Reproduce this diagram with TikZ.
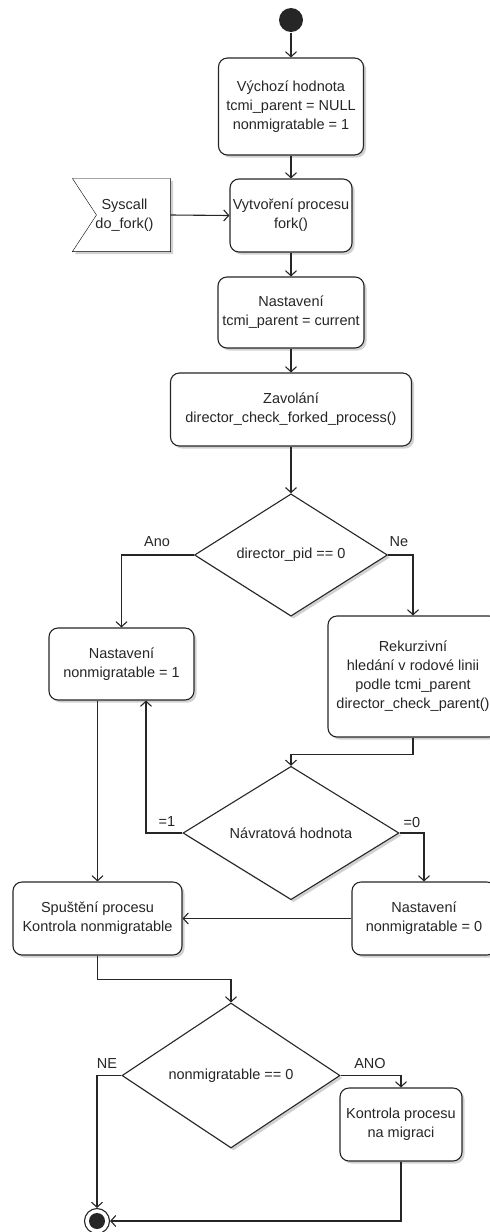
\documentclass[tikz,border=0pt]{standalone}
\usepackage{fontspec}
\setmainfont{Liberation Sans}
\usetikzlibrary{arrows.meta,shapes.geometric,shadows,backgrounds}

\begin{document}
\begin{tikzpicture}[x=1pt,y=-1pt,
  font=\fontsize{14.5}{19}\selectfont,
  color=black!85,
  line width=1.1pt,
  shade/.style={drop shadow={shadow xshift=2.5pt,shadow yshift=-2.5pt,fill=black,opacity=0.18}},
  act/.style={draw,fill=white,rounded corners=9pt,align=center,inner sep=1pt,shade},
  dec/.style={draw,fill=white,diamond,inner sep=0pt,shade},
  flow/.style={-{Straight Barb[length=5pt,width=11pt]}},
  lbl/.style={inner sep=0pt}]

\useasboundingbox (0,0) rectangle (490,1232);

% start / end markers
\node[circle,fill,inner sep=0pt,minimum size=24pt] (start) at (291,20) {};
\node[circle,draw,fill=white,inner sep=0pt,minimum size=25pt] (end) at (97,1221) {};
\fill (end.center) circle (8);

% activities
\node[act,minimum width=145pt,minimum height=97pt] (b1) at (291,106.5)
  {Výchozí hodnota\\tcmi\_parent = NULL\\nonmigratable = 1};
\node[act,minimum width=122pt,minimum height=73pt] (b2) at (291,215.5)
  {Vytvoření procesu\\fork()};
\node[minimum width=97pt,minimum height=72pt,inner sep=0pt,align=center] (sys) at (121.5,215)
  {\hspace*{6pt}Syscall\\\hspace*{6pt}do\_fork()};
\begin{scope}[on background layer]
  \draw[fill=white,shade] (sys.north west) -- (sys.north east) -- (sys.south east)
    -- (sys.south west) -- ([xshift=24pt]sys.west) -- cycle;
\end{scope}
\node[act,minimum width=146pt,minimum height=71pt] (b3) at (291,312.5)
  {Nastavení\\tcmi\_parent = current};
\node[act,minimum width=241pt,minimum height=73pt] (b4) at (291,409.5)
  {Zavolání\\director\_check\_forked\_process()};

\node[dec,minimum width=193pt,minimum height=120pt] (d1) at (291,555) {director\_pid == 0};

\node[act,minimum width=145pt,minimum height=72pt] (b5) at (121.5,664)
  {Nastavení\\nonmigratable = 1};
\node[act,minimum width=170pt,minimum height=121pt] (b6) at (413,676.5)
  {Rekurzivní\\hledání v rodové linii\\podle tcmi\_parent\\director\_check\_parent()};

\node[dec,minimum width=216pt,minimum height=120pt] (d2) at (291,833) {Návratová hodnota};

\node[act,minimum width=169pt,minimum height=73pt] (b8) at (97.5,918.5)
  {Spuštění procesu\\Kontrola nonmigratable};
\node[act,minimum width=144pt,minimum height=73pt] (b7) at (424,918.5)
  {Nastavení\\nonmigratable = 0};

\node[dec,minimum width=218pt,minimum height=145pt] (d3) at (231,1075.5) {nonmigratable == 0};
\node[act,minimum width=122pt,minimum height=73pt] (b9) at (401,1124.5)
  {Kontrola procesu\\na migraci};

% branch labels
\node[lbl] (lano) at (157,542) {Ano};
\node[lbl] (lne) at (399,542) {Ne};
\node[lbl] (ljedna) at (167,822) {=1};
\node[lbl] (lnula) at (412,822) {=0};
\node[lbl] (lNE) at (107,1063) {NE};
\node[lbl] (lANO) at (370,1063) {ANO};

% connectors
\draw[flow] (start) -- (b1);
\draw[flow] (b1) -- (b2);
\draw[flow] (sys.east) -- (b2.west);
\draw[flow] (b2) -- (b3);
\draw[flow] (b3) -- (b4);
\draw[flow] (b4) -- (d1);
\draw[flow] (d1.west) -| (b5.north);
\draw[flow] (d1.east) -| (b6.north);
\draw[flow] (b6.south) -- ++(0,17) -| (d2.north);
\draw[flow] (d2.west) -| ([xshift=24.5pt]b5.south);
\draw[flow] (d2.east) -| (b7.north);
\draw[flow] (b8.north |- b5.south) -- (b8.north);
\draw[flow] (b7.west) -- (b8.east);
\draw[flow] (b8.south) -- ++(0,24) -| (d3.north);
\draw[flow] (d3.west) -| (end.north);
\draw[flow] (d3.east) -| (b9.north);
\draw[flow] (b9.south) |- (end.east);
\end{tikzpicture}
\end{document}
